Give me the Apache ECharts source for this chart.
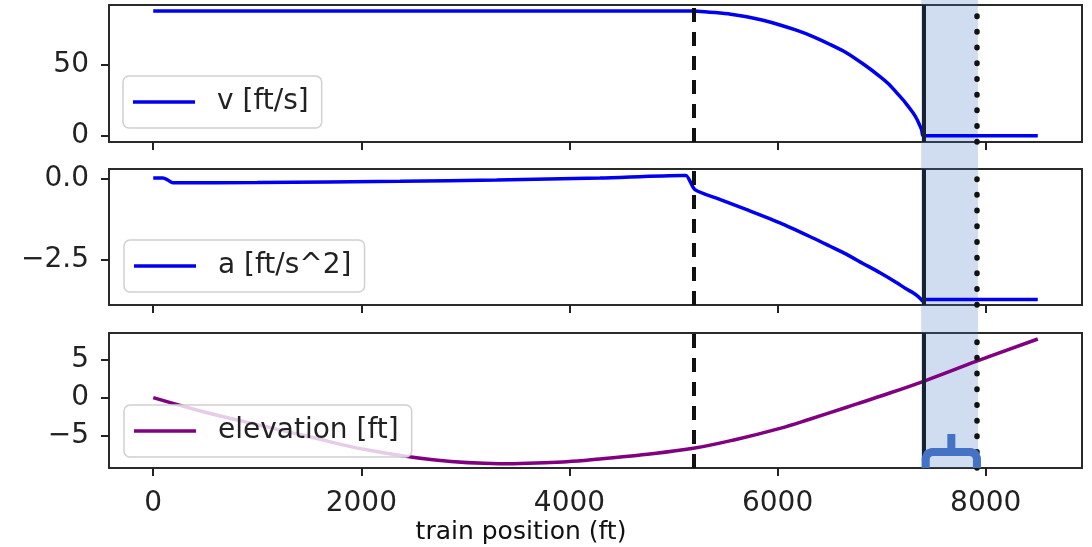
<!DOCTYPE html>
<html><head><meta charset="utf-8">
<script src="https://cdn.jsdelivr.net/npm/echarts@6/dist/echarts.min.js"></script>
<style>html,body{margin:0;padding:0;background:#fff}#c{width:1092px;height:547px}</style>
</head><body><div id="c"></div>
<script>
// ---- data (train position in ft) ----
const posV = [0, 5190, 5300, 5400, 5550, 5703, 5860, 6023, 6180, 6340, 6500, 6664, 6820, 6984, 7070, 7145, 7225, 7301, 7340, 7368, 7385, 7400, 8500];
const velocity = [88, 88, 87.6, 87, 85.8, 84, 81.5, 78.2, 74.5, 70, 64.6, 58.5, 50.8, 41.8, 36.4, 30.3, 23.6, 16.2, 11.5, 7, 4, 0, 0];

const posA = [0, 93, 140, 189, 1000, 2371, 3300, 4293, 5091, 5120, 5206, 5450, 5703, 6023, 6340, 6500, 6664, 6820, 6984, 7145, 7230, 7301, 7340, 7368, 7390, 7400, 7410, 8500];
const accel = [0.03, 0.03, -0.03, -0.12, -0.11, -0.07, -0.03, 0.03, 0.11, 0.11, -0.33, -0.64, -0.95, -1.36, -1.83, -2.08, -2.34, -2.62, -2.91, -3.22, -3.4, -3.53, -3.62, -3.7, -3.78, -3.8, -3.74, -3.74];

const posE = [0, 500, 1090, 1500, 2051, 2688, 3324, 3973, 4293, 4700, 5190, 5600, 6023, 6300, 6664, 7000, 7416, 7913, 8500];
const elevation = [0, -1.9, -3.8, -5.1, -6.8, -8.1, -8.6, -8.35, -8.0, -7.45, -6.6, -5.45, -4.0, -2.85, -1.25, 0.25, 2.2, 4.75, 7.65];

const xTicks = [0, 2000, 4000, 6000, 8000];
const vTicks = [0, 50];
const aTicks = [-2.5, 0];
const eTicks = [-5, 0, 5];

const brakeStart = 5190;   // dashed line
const stopPos = 7400;      // solid line
const targetPos = 7910;    // dotted line
const bandRange = [7380, 7925];

const names = ['v [ft/s]', 'a [ft/s^2]', 'elevation [ft]'];
const colors = ['#0000f0', '#0000f0', '#800080'];
const smoothing = [0.25, 0.25, 0.4];

// ---- chart ----
const chart = echarts.init(document.getElementById('c'), null, {renderer: 'canvas'});
const FONT = 'DejaVu Sans';
const minus = s => String(s).replace('-', '\u2212');

const grids = [
  {left: 109, right: 10, top: 5, height: 137},
  {left: 109, right: 10, top: 169, height: 136},
  {left: 109, right: 10, top: 333, height: 135}
].map(g => Object.assign(g, {show: true, borderColor: '#2a2a2a', borderWidth: 2, backgroundColor: 'transparent'}));

function xAxis(i, labels) {
  return {
    type: 'value', gridIndex: i, min: -425, max: 8925, position: 'bottom',
    axisLine: {show: false, onZero: false},
    splitLine: {show: false},
    axisTick: {show: true, customValues: xTicks, length: 8, lineStyle: {color: '#222', width: 2}},
    axisLabel: {show: labels, customValues: xTicks, fontSize: 28, fontFamily: FONT, color: '#222', margin: 22,
                formatter: v => String(v)}
  };
}
function yAxis(i, min, max, ticks, fmt) {
  return {
    type: 'value', gridIndex: i, min: min, max: max, position: 'left',
    axisLine: {show: false, onZero: false},
    splitLine: {show: false},
    axisTick: {show: true, customValues: ticks, length: 8, lineStyle: {color: '#222', width: 2}},
    axisLabel: {customValues: ticks, fontSize: 28, fontFamily: FONT, color: '#222', margin: 20,
                padding: [8, 0, 0, 0], formatter: fmt}
  };
}
const markLines = {
  silent: true, symbol: ['none', 'none'], label: {show: false}, animation: false,
  data: [
    {xAxis: brakeStart, lineStyle: {color: '#111', width: 4, type: [14, 10]}},
    {xAxis: stopPos, lineStyle: {color: '#172233', width: 4, type: 'solid'}},
    {xAxis: targetPos, lineStyle: {color: '#111', width: 5.5, type: [0.5, 15.2], cap: 'round'}}
  ]
};
function series(i, xs, ys) {
  return {
    name: names[i], type: 'line', xAxisIndex: i, yAxisIndex: i,
    data: xs.map((x, k) => [x, ys[k]]),
    showSymbol: false, symbol: 'none', smooth: smoothing[i],
    color: colors[i], lineStyle: {color: colors[i], width: 3.5},
    markLine: markLines, z: 3
  };
}
function legend(i, left, top) {
  return {
    data: [names[i]], left: left, top: top, orient: 'vertical',
    icon: 'rect', itemWidth: 62, itemHeight: 3.5, selectedMode: false,
    padding: [12, 13, 12, 10],
    backgroundColor: 'rgba(255,255,255,0.8)', borderColor: '#d0d0d0', borderWidth: 1.5, borderRadius: 6,
    textStyle: {fontSize: 28, fontFamily: FONT, color: '#222', padding: [0, 0, 0, 17]}
  };
}

chart.setOption({
  animation: false,
  grid: grids,
  xAxis: [xAxis(0, false), xAxis(1, false), xAxis(2, true)],
  yAxis: [
    yAxis(0, -4.4, 92.3, vTicks, v => String(v)),
    yAxis(1, -3.91, 0.31, aTicks, v => minus(v.toFixed(1))),
    yAxis(2, -9.17, 8.43, eTicks, v => minus(v))
  ],
  legend: [legend(0, 123, 76), legend(1, 124, 240), legend(2, 124, 405)],
  series: [series(0, posV, velocity), series(1, posA, accel), series(2, posE, elevation)]
});

// ---- annotations computed from the axes ----
const bx0 = chart.convertToPixel({xAxisIndex: 0}, bandRange[0]);
const bx1 = chart.convertToPixel({xAxisIndex: 0}, bandRange[1]);
const bottom = chart.convertToPixel({yAxisIndex: 2}, -9.17);
const xL = bx0 + 4.5, xR = bx1 - 1, xm = (xL + xR) / 2;
const topY = bottom - 16, stemTop = bottom - 34;

chart.setOption({
  graphic: [
    {type: 'rect', silent: true, z: 1,
     shape: {x: bx0, y: 0, width: bx1 - bx0, height: bottom},
     style: {fill: 'rgba(68,114,196,0.25)'}},
    {type: 'polyline', silent: true, z: 100,
     shape: {points: [[xL, bottom], [xL, topY + 6], [xL + 1.8, topY + 1.8], [xL + 6, topY],
                      [xR - 6, topY], [xR - 1.8, topY + 1.8], [xR, topY + 6], [xR, bottom]]},
     style: {stroke: '#4472C4', lineWidth: 8, fill: null, lineJoin: 'round'}},
    {type: 'line', silent: true, z: 100,
     shape: {x1: xm, y1: topY, x2: xm, y2: stemTop},
     style: {stroke: '#4472C4', lineWidth: 8}},
    {type: 'text', silent: true, z: 100, x: 521, y: 532,
     style: {text: 'train position (ft)', font: '25px "DejaVu Sans"', fill: '#111',
             textAlign: 'center', textVerticalAlign: 'middle'}}
  ]
});
</script>
</body></html>
